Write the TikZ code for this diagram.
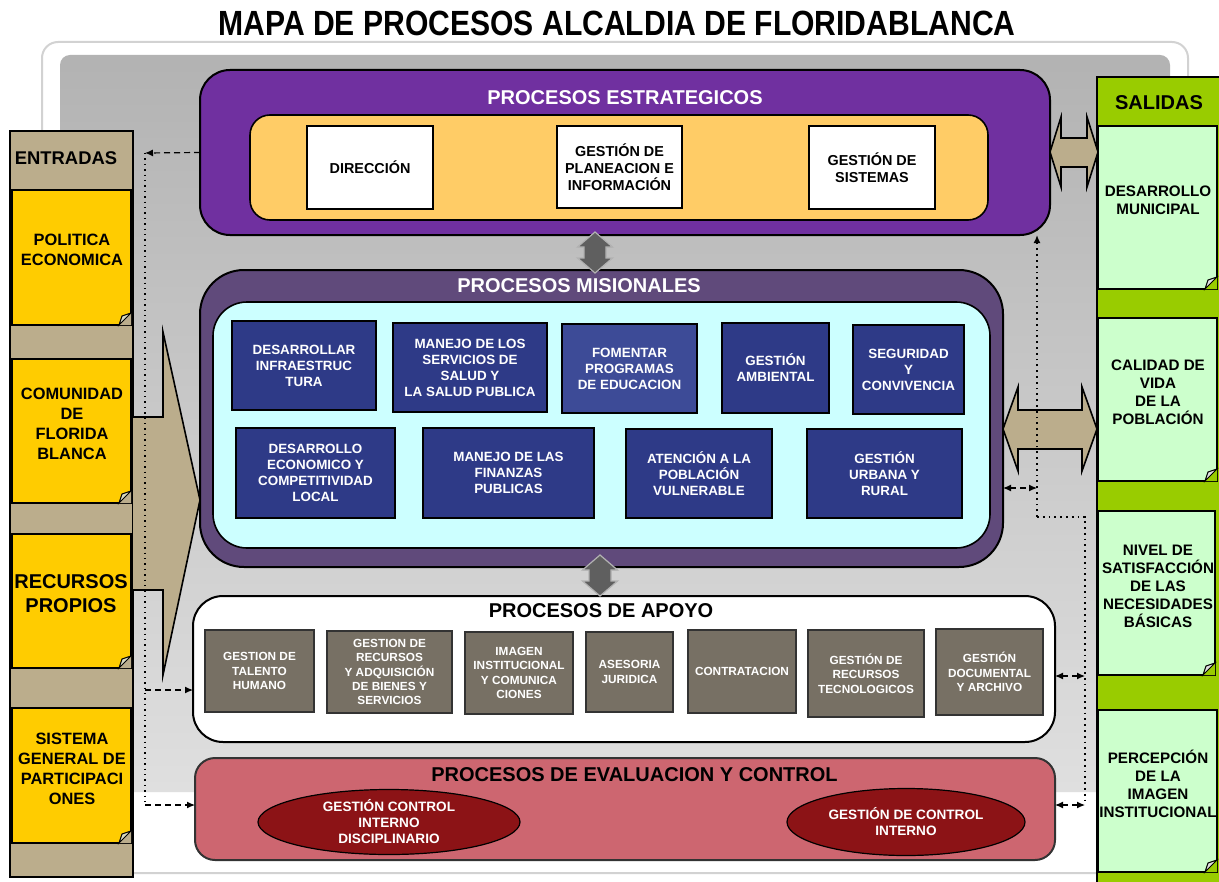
\documentclass[tikz,border=0pt]{standalone}
\usepackage{fontspec}
\setmainfont{Liberation Sans}
\usepackage{graphicx}
\usetikzlibrary{calc,arrows.meta}
\definecolor{tanc}{HTML}{BBAD8C}
\definecolor{yel}{HTML}{FFCC00}
\definecolor{grn}{HTML}{99CC00}
\definecolor{lgrn}{HTML}{CCFFCC}
\definecolor{purp}{HTML}{7030A0}
\definecolor{orng}{HTML}{FFCC66}
\definecolor{mpur}{HTML}{604A7B}
\definecolor{cyanl}{HTML}{CCFFFF}
\definecolor{navy}{HTML}{2E3A87}
\definecolor{navyl}{HTML}{3D4B97}
\definecolor{apo}{HTML}{777064}
\definecolor{pinkc}{HTML}{CD6670}
\definecolor{dred}{HTML}{8C1316}
\definecolor{garrow}{HTML}{5F5F5F}
\definecolor{foldc}{HTML}{D9D9C0}
\newcommand\fsz[2]{\fontsize{#1}{#2}\selectfont}
\newcommand\dogear[3]{%
  \fill[#2] (#1.south east) -- ++(-12,0) -- ++(12,-12) -- cycle;
  \filldraw[fill=#3, draw=black, line width=0.5pt] ($(#1.south east)+(-12,0)$) -- ($(#1.south east)+(0,-12)$) -- ($(#1.south east)+(-9,-9)$) -- cycle;}
\tikzset{
  every node/.style={font=\bfseries, align=center, inner sep=1pt, outer sep=0pt},
  mbox/.style={draw=black, line width=0.8pt, fill=navy, text=white, font=\bfseries\fsz{6.7}{8}},
  abox/.style={draw=black!80, line width=0.8pt, fill=apo, text=white, font=\bfseries\fsz{5.9}{7.2}},
  sbox/.style={draw=black, line width=0.6pt, fill=white, font=\bfseries\fsz{7.2}{8.5}},
  ynote/.style={draw=black, line width=0.6pt, fill=yel},
  gnote/.style={draw=black, line width=0.6pt, fill=lgrn},
  ntext/.style={font=\bfseries\fsz{8.2}{10}},
  stext/.style={font=\bfseries\fsz{7.6}{9}},
  ptitle/.style={font=\bfseries\fsz{10}{12}},
  ell/.style={ellipse, draw=black, line width=0.6pt, fill=dred, text=white, font=\bfseries\fsz{6.8}{8}},
  dashconn/.style={densely dashed, line width=0.6pt},
  dotconn/.style={dotted, line width=0.9pt},
  tip/.style={Latex[length=4pt,width=3.5pt]},
  tanarrow/.style={fill=tanc, draw=black, line width=0.8pt},
  grayarrow/.style={fill=garrow, draw=gray!60, line width=0.6pt},
}
\usetikzlibrary{shapes.geometric}
\begin{document}
\begin{tikzpicture}[x=0.5pt,y=-0.5pt]
\useasboundingbox (0,0) rectangle (1219,882);
% title
\node[font=\bfseries\fsz{17.5}{20}] (title) at (617,23) {\scalebox{0.86}[1]{MAPA DE PROCESOS ALCALDIA DE FLORIDABLANCA}};
% frame and gray area
\draw[gray!35, line width=1pt, fill=white, rounded corners=8pt] (42,42) rectangle (1188,873);
\shade[top color=gray!60, bottom color=gray!25, rounded corners=5pt] (60,55) rectangle (1170,792);

% ENTRADAS column
\node[draw=black, line width=1pt, fill=tanc, minimum width=61.5pt, minimum height=373pt] (entr) at (71.5,504) {};
\node[font=\bfseries\fsz{9.2}{11}] (entrt) at (66,158) {ENTRADAS};
\node[ynote, minimum width=59.5pt, minimum height=67.5pt] (n1) at (71.5,257.5) {};
\node[ynote, minimum width=59.5pt, minimum height=72pt] (n2) at (71.5,431) {};
\node[ynote, minimum width=59.5pt, minimum height=67pt] (n3) at (71.5,601) {};
\node[ynote, minimum width=59.5pt, minimum height=67.5pt] (n4) at (71.5,775.5) {};
\dogear{n1}{tanc}{foldc}\dogear{n2}{tanc}{foldc}\dogear{n3}{tanc}{foldc}\dogear{n4}{tanc}{foldc}
\node[ntext] (n1t) at (72,250) {POLITICA\\ECONOMICA};
\node[ntext] (n2t) at (72,424) {COMUNIDAD\\DE\\FLORIDA\\BLANCA};
\node[font=\bfseries\fsz{10}{12}] (n3t) at (71,594) {RECURSOS\\PROPIOS};
\node[ntext] (n4t) at (72,769) {SISTEMA\\GENERAL DE\\PARTICIPACI\\ONES};

% big input arrow
\fill[tanc] (133,417) -- (163,417) -- (163,332) -- (200,500) -- (163,675) -- (163,590) -- (133,590) -- cycle;
\draw[black, line width=0.8pt] (133,417) -- (163,417) -- (163,332) -- (200,500) -- (163,675) -- (163,590) -- (133,590);

% SALIDAS column
\node[draw=black, line width=1pt, fill=grn, minimum width=62.5pt, minimum height=403.5pt] (sal) at (1159.5,480.5) {};
\node[font=\bfseries\fsz{10}{12}] (salt) at (1159,103) {SALIDAS};
\node[gnote, minimum width=59.5pt, minimum height=81.5pt] (s1) at (1157.5,207.5) {};
\node[gnote, minimum width=59.5pt, minimum height=81.5pt] (s2) at (1157.5,399.5) {};
\node[gnote, minimum width=58.5pt, minimum height=82pt] (s3) at (1156.5,593) {};
\node[gnote, minimum width=59.5pt, minimum height=81pt] (s4) at (1157.5,791) {};
\dogear{s1}{grn}{gray!25}\dogear{s2}{grn}{gray!25}\dogear{s3}{grn}{gray!25}\dogear{s4}{grn}{gray!25}
\node[stext] (s1t) at (1158,200) {DESARROLLO\\MUNICIPAL};
\node[stext] (s2t) at (1158,392) {CALIDAD DE\\VIDA\\DE LA\\POBLACIÓN};
\node[stext] (s3t) at (1158,586) {NIVEL DE\\SATISFACCIÓN\\DE LAS\\NECESIDADES\\BÁSICAS};
\node[stext] (s4t) at (1158,784) {PERCEPCIÓN\\DE LA\\IMAGEN\\INSTITUCIONAL};

% PROCESOS ESTRATEGICOS
\node[draw=black, line width=1pt, fill=purp, rounded corners=15pt, minimum width=425pt, minimum height=82.5pt] (strat) at (625,152.5) {};
\node[ptitle, text=white] (stratt) at (625,98) {PROCESOS ESTRATEGICOS};
\node[draw=black, line width=0.8pt, fill=orng, rounded corners=10pt, minimum width=369pt, minimum height=52.5pt] (orng) at (619,167.5) {};
\node[sbox, minimum width=63pt, minimum height=41.5pt] (d1) at (370,167.5) {DIRECCIÓN};
\node[sbox, minimum width=62.5pt, minimum height=41pt] (d2) at (619.5,167) {GESTIÓN DE\\PLANEACION E\\INFORMACIÓN};
\node[sbox, minimum width=63pt, minimum height=41.5pt] (d3) at (872,167.5) {GESTIÓN DE\\SISTEMAS};

% PROCESOS MISIONALES
\node[draw=black, line width=1pt, fill=mpur, rounded corners=22pt, minimum width=401.5pt, minimum height=148.5pt] (mis) at (601.5,418.5) {};
\node[ptitle, text=white] (mist) at (579,286) {PROCESOS MISIONALES};
\node[draw=black, line width=0.8pt, fill=cyanl, rounded corners=17pt, minimum width=388.5pt, minimum height=123pt] (cyn) at (601.5,425) {};
\node[mbox, minimum width=72pt, minimum height=44.5pt] (m1) at (304,365.5) {DESARROLLAR\\INFRAESTRUC\\TURA};
\node[mbox, minimum width=77pt, minimum height=44.5pt] (m2) at (470,367.5) {MANEJO DE LOS\\SERVICIOS DE\\SALUD Y\\LA SALUD PUBLICA};
\node[mbox, fill=navyl, minimum width=67.5pt, minimum height=44.5pt] (m3) at (629.5,368.5) {FOMENTAR\\PROGRAMAS\\DE EDUCACION};
\node[mbox, minimum width=53.5pt, minimum height=45pt] (m4) at (775.5,368) {GESTIÓN\\AMBIENTAL};
\node[mbox, minimum width=55.5pt, minimum height=44.5pt] (m5) at (908.5,369.5) {SEGURIDAD\\Y\\CONVIVENCIA};
\node[mbox, minimum width=79.5pt, minimum height=45pt] (m6) at (315.5,473) {DESARROLLO\\ECONOMICO Y\\COMPETITIVIDAD\\LOCAL};
\node[mbox, minimum width=85.5pt, minimum height=45pt] (m7) at (508.5,473) {MANEJO DE LAS\\FINANZAS\\PUBLICAS};
\node[mbox, minimum width=73pt, minimum height=44.5pt] (m8) at (699,473.5) {ATENCIÓN A LA\\POBLACIÓN\\VULNERABLE};
\node[mbox, minimum width=77.5pt, minimum height=44.5pt] (m9) at (884.5,473.5) {GESTIÓN\\URBANA Y\\RURAL};

% PROCESOS DE APOYO
\node[draw=black, line width=1pt, fill=white, rounded corners=15pt, minimum width=431pt, minimum height=73pt] (apoyo) at (624,669) {};
\node[ptitle] (apoyot) at (601,611) {PROCESOS DE APOYO};
\node[abox, minimum width=54.5pt, minimum height=41pt] (a1) at (259.5,671) {GESTION DE\\TALENTO\\HUMANO};
\node[abox, minimum width=62.5pt, minimum height=41pt] (a2) at (389.5,672) {GESTION DE\\RECURSOS\\Y ADQUISICIÓN\\DE BIENES Y\\SERVICIOS};
\node[abox, minimum width=54pt, minimum height=41pt] (a3) at (519,673) {IMAGEN\\INSTITUCIONAL\\Y COMUNICA\\CIONES};
\node[abox, minimum width=43.5pt, minimum height=40pt] (a4) at (629.5,672) {ASESORIA\\JURIDICA};
\node[abox, minimum width=54pt, minimum height=41.5pt] (a5) at (742,671.5) {CONTRATACION};
\node[abox, minimum width=58pt, minimum height=43.5pt] (a6) at (866,673.5) {GESTIÓN DE\\RECURSOS\\TECNOLOGICOS};
\node[abox, minimum width=53.5pt, minimum height=43pt] (a7) at (989.5,672) {GESTIÓN\\DOCUMENTAL\\Y ARCHIVO};

% PROCESOS DE EVALUACION Y CONTROL
\node[draw=black!80, line width=1pt, fill=pinkc, rounded corners=10pt, minimum width=430pt, minimum height=51pt] (eval) at (625,809) {};
\node[ptitle] (evalt) at (634.5,775) {PROCESOS DE EVALUACION Y CONTROL};
\node[ell, minimum width=131pt, minimum height=32.5pt, inner sep=0pt] (e1) at (389,822) {GESTIÓN CONTROL\\INTERNO\\DISCIPLINARIO};
\node[ell, minimum width=119pt, minimum height=33.5pt, inner sep=0pt] (e2) at (906,822) {GESTIÓN DE CONTROL\\INTERNO};

% gray vertical double arrows
\path[grayarrow] (595,232) -- ++(17.5,15) -- ++(-6.5,0) -- ++(0,11) -- ++(6.5,0) -- (595,273) -- ++(-17.5,-15) -- ++(6.5,0) -- ++(0,-11) -- ++(-6.5,0) -- cycle;
\path[grayarrow] (600,555) -- ++(17.5,15) -- ++(-6.5,0) -- ++(0,11) -- ++(6.5,0) -- (600,596) -- ++(-17.5,-15) -- ++(6.5,0) -- ++(0,-11) -- ++(-6.5,0) -- cycle;

% tan horizontal double arrows
\path[tanarrow] (1050,152) -- (1061,117) -- (1061,138) -- (1087,138) -- (1087,117) -- (1098,152) -- (1087,187) -- (1087,167) -- (1061,167) -- (1061,187) -- cycle;
\path[tanarrow] (1003,429) -- (1018,387) -- (1018,410) -- (1082,410) -- (1082,387) -- (1097,429) -- (1082,471) -- (1082,449) -- (1018,449) -- (1018,471) -- cycle;

% left connectors
\coordinate (lt) at (145,153);
\coordinate (lm) at (145,690);
\coordinate (lb) at (145,805);
\draw[dashconn, -{Latex[length=4pt,width=3.5pt]}] (strat.west) -- (lt);
\draw[dotconn, line width=0.7pt] (lt) -- (lb);
\draw[dashconn, -{Latex[length=4pt,width=3.5pt]}] (lm) -- (lm -| apoyo.west);
\draw[dashconn, -{Latex[length=4pt,width=3.5pt]}] (lb) -- (lb -| eval.west);

% right connectors
\coordinate (r1) at (1037,517);
\coordinate (r2) at (1085,517);
\coordinate (r3) at (1085,805);
\coordinate (rm) at (1037,488);
\coordinate (ra) at (1085,676);
\draw[dotconn, -{Latex[length=4pt,width=3.5pt]}] (r1) -- (r1 |- strat.south);
\draw[dotconn] (r1) -- (r2) -- (r3);
\draw[dashconn, {Latex[length=4pt,width=3.5pt]}-{Latex[length=4pt,width=3.5pt]}] (rm -| mis.east) -- (rm);
\draw[dashconn, {Latex[length=4pt,width=3.5pt]}-{Latex[length=4pt,width=3.5pt]}] (ra -| apoyo.east) -- (ra);
\draw[dashconn, {Latex[length=4pt,width=3.5pt]}-{Latex[length=4pt,width=3.5pt]}] (r3 -| eval.east) -- (r3);
\end{tikzpicture}
\end{document}
